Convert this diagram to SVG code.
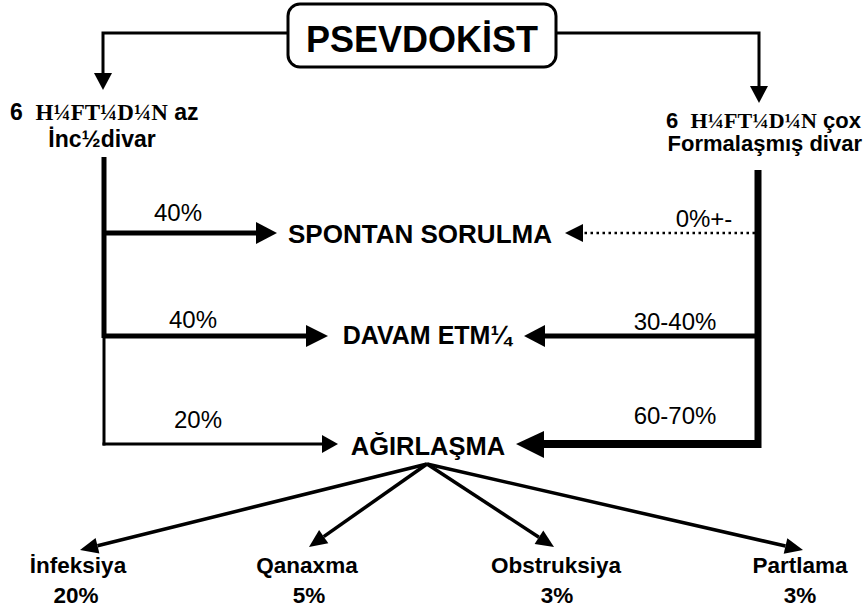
<svg xmlns="http://www.w3.org/2000/svg" width="865" height="612" viewBox="0 0 865 612">
<style>
text{font-family:"Liberation Sans",Arial,sans-serif;fill:#000}
.b{font-weight:bold}
.c{text-anchor:middle}
.e{text-anchor:end}
.serif{font-family:"Liberation Serif","Times New Roman",serif;font-weight:bold}
.ln{fill:none;stroke:#000;stroke-linecap:butt;stroke-linejoin:miter}
.ah{fill:#000;stroke:none}
.pre{white-space:pre}
</style>
<rect width="865" height="612" fill="#fff"/>
<g id="connectors">
  <polyline class="ln" stroke-width="3" points="288,33 103,33 103,76"/>
  <polygon class="ah" points="103,90 94,73 112,73"/>
  <polyline class="ln" stroke-width="3" points="556,33 759,33 759,88"/>
  <polygon class="ah" points="759,103 750,86 768,86"/>
  <line class="ln" stroke-width="5" x1="104" y1="157" x2="104" y2="338"/>
  <line class="ln" stroke-width="3" x1="104" y1="336" x2="104" y2="445.5"/>
  <line class="ln" stroke-width="5" x1="104" y1="233" x2="258" y2="233"/>
  <polygon class="ah" points="277,233 256,222 256,244"/>
  <line class="ln" stroke-width="5" x1="104" y1="336" x2="308" y2="336"/>
  <polygon class="ah" points="328,336 306,325 306,347"/>
  <line class="ln" stroke-width="3" x1="102.5" y1="444" x2="323" y2="444"/>
  <polygon class="ah" points="338,444 322,435 322,453"/>
  <line class="ln" stroke-width="7" stroke-linecap="round" x1="758" y1="170" x2="758" y2="448"/>
  <line class="ln" stroke-width="2.5" stroke-dasharray="2.5 3.5" x1="755" y1="233" x2="584" y2="233"/>
  <polygon class="ah" points="565,233 583,224 583,242"/>
  <line class="ln" stroke-width="5" x1="758" y1="336" x2="544" y2="336"/>
  <polygon class="ah" points="524,336 545,325 545,347"/>
  <line class="ln" stroke-width="8" x1="758" y1="444" x2="542" y2="444"/>
  <polygon class="ah" points="516,444 544,431 544,458"/>
  <line class="ln" stroke-width="3.5" x1="427" y1="464" x2="97.5" y2="545.7"/>
  <polygon class="ah" points="80,550 95.6,537.9 99.4,553.4"/>
  <line class="ln" stroke-width="3.5" x1="427" y1="464" x2="323.7" y2="536.6"/>
  <polygon class="ah" points="309,547 319.1,530.1 328.3,543.2"/>
  <line class="ln" stroke-width="3.5" x1="427" y1="464" x2="538.9" y2="537.2"/>
  <polygon class="ah" points="554,547 534.6,543.9 543.3,530.5"/>
  <line class="ln" stroke-width="3.5" x1="427" y1="464" x2="785.5" y2="546"/>
  <polygon class="ah" points="803,550 783.7,553.8 787.3,538.2"/>
</g>
<g id="labels">
  <text class="c" x="178" y="221" font-size="24">40%</text>
  <text class="c" x="704" y="227" font-size="24">0%+-</text>
  <text class="c" x="193" y="328" font-size="24">40%</text>
  <text class="c" x="675" y="330" font-size="24">30-40%</text>
  <text class="c" x="198" y="428" font-size="24">20%</text>
  <text class="c" x="675" y="424" font-size="24">60-70%</text>
</g>
<g id="pseudocyst">
  <rect x="288" y="4" width="268" height="63" rx="12" ry="12" fill="#fff" stroke="#000" stroke-width="3"/>
  <text class="b c" x="422" y="52" font-size="36">PSEVDOKİST</text>
</g>
<g id="left-source">
  <text class="b pre" x="10" y="120" font-size="23">6  <tspan class="serif">H¼FT¼D¼N</tspan> az</text>
  <text class="b c" x="102" y="147" font-size="23">İnc½divar</text>
</g>
<g id="right-source">
  <text class="b pre e" x="861" y="128" font-size="22">6  <tspan class="serif">H¼FT¼D¼N</tspan> çox</text>
  <text class="b e" x="862" y="151" font-size="22">Formalaşmış divar</text>
</g>
<g id="spontan">
  <text class="b c" x="420" y="243" font-size="25" textLength="264" lengthAdjust="spacingAndGlyphs">SPONTAN SORULMA</text>
</g>
<g id="davam">
  <text class="b c" x="427" y="344" font-size="25">DAVAM ETM¼</text>
</g>
<g id="agirlasma">
  <text class="b c" x="428" y="455" font-size="25.5">AĞIRLAŞMA</text>
</g>
<g id="infeksiya">
  <text class="b c" x="78" y="573" font-size="22.5">İnfeksiya</text>
  <text class="b c" x="76" y="603" font-size="22.5">20%</text>
</g>
<g id="qanaxma">
  <text class="b c" x="307" y="573" font-size="22.5">Qanaxma</text>
  <text class="b c" x="309" y="603" font-size="22.5">5%</text>
</g>
<g id="obstruksiya">
  <text class="b c" x="556" y="573" font-size="22.5">Obstruksiya</text>
  <text class="b c" x="557" y="603" font-size="22.5">3%</text>
</g>
<g id="partlama">
  <text class="b c" x="800" y="573" font-size="22.5">Partlama</text>
  <text class="b c" x="800" y="603" font-size="22.5">3%</text>
</g>
</svg>
